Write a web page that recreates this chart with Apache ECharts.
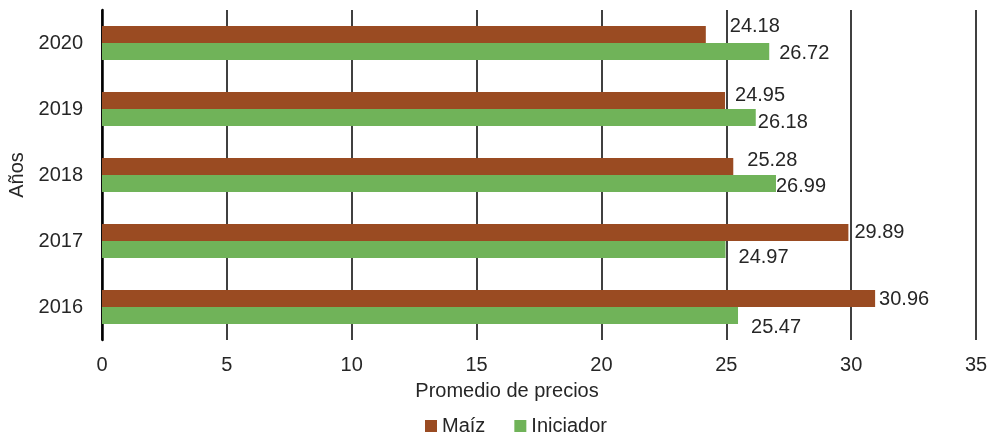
<!DOCTYPE html>
<html><head><meta charset="utf-8">
<script src="https://cdn.jsdelivr.net/npm/echarts@6/dist/echarts.min.js"></script>
<style>html,body{margin:0;padding:0;background:#fff}#c{width:988px;height:439px}</style>
</head><body><div id="c"></div>
<script>
const years = ['2016','2017','2018','2019','2020'];
const maiz = [30.96, 29.89, 25.28, 24.95, 24.18];
const iniciador = [25.47, 24.97, 26.99, 26.18, 26.72];
const xTicks = [0,5,10,15,20,25,30,35];

// label offsets [dx, dy] per year (same order as years)
const maizOff = [[4,1],[6,0],[14,-6],[10,-5],[24,-8]];
const iniOff = [[13,12],[13,8],[0,3],[2,5],[10,2]];

const font = 'Liberation Sans, Arial, sans-serif';
const txt = '#262626';
function mk(vals, offs){
  return vals.map((v,i)=>({value:v,label:{offset:offs[i]}}));
}
const chart = echarts.init(document.getElementById('c'));
chart.setOption({
  animation:false,
  textStyle:{fontFamily:font},
  grid:{left:102,right:12,top:10,bottom:99,outerBoundsMode:'none',containLabel:false},
  legend:{data:['Maíz','Iniciador'],bottom:-2,left:420,itemWidth:12,itemHeight:12,itemGap:29,
    icon:'rect',textStyle:{fontFamily:font,fontSize:20,color:txt}},
  xAxis:{type:'value',min:xTicks[0],max:xTicks[xTicks.length-1],interval:5,
    name:'Promedio de precios',nameLocation:'middle',nameGap:41,
    nameTextStyle:{fontFamily:font,fontSize:20,color:txt,padding:[0,64,0,0]},
    axisLine:{show:false},axisTick:{show:false},
    axisLabel:{fontFamily:font,fontSize:20,color:txt,margin:15},
    splitLine:{lineStyle:{color:'#000',width:1.5}}},
  yAxis:{type:'category',data:years,
    name:'Años',nameLocation:'middle',nameGap:73,nameRotate:90,
    nameTextStyle:{fontFamily:font,fontSize:20,color:txt},
    axisLine:{lineStyle:{color:'#000',width:2.5}},axisTick:{show:false},
    axisLabel:{fontFamily:font,fontSize:20,color:txt,margin:19}},
  series:[
    {name:'Maíz',type:'bar',data:mk(maiz,maizOff),barWidth:17,barGap:'0%',
     itemStyle:{color:'#9A4B22'},
     label:{show:true,position:'right',distance:0,fontFamily:font,fontSize:20,color:txt,
       formatter:p=>p.value.toFixed(2)}},
    {name:'Iniciador',type:'bar',data:mk(iniciador,iniOff),barWidth:17,barGap:'0%',
     itemStyle:{color:'#70B359'},
     label:{show:true,position:'right',distance:0,fontFamily:font,fontSize:20,color:txt,
       formatter:p=>p.value.toFixed(2)}}
  ]
});
</script></body></html>
